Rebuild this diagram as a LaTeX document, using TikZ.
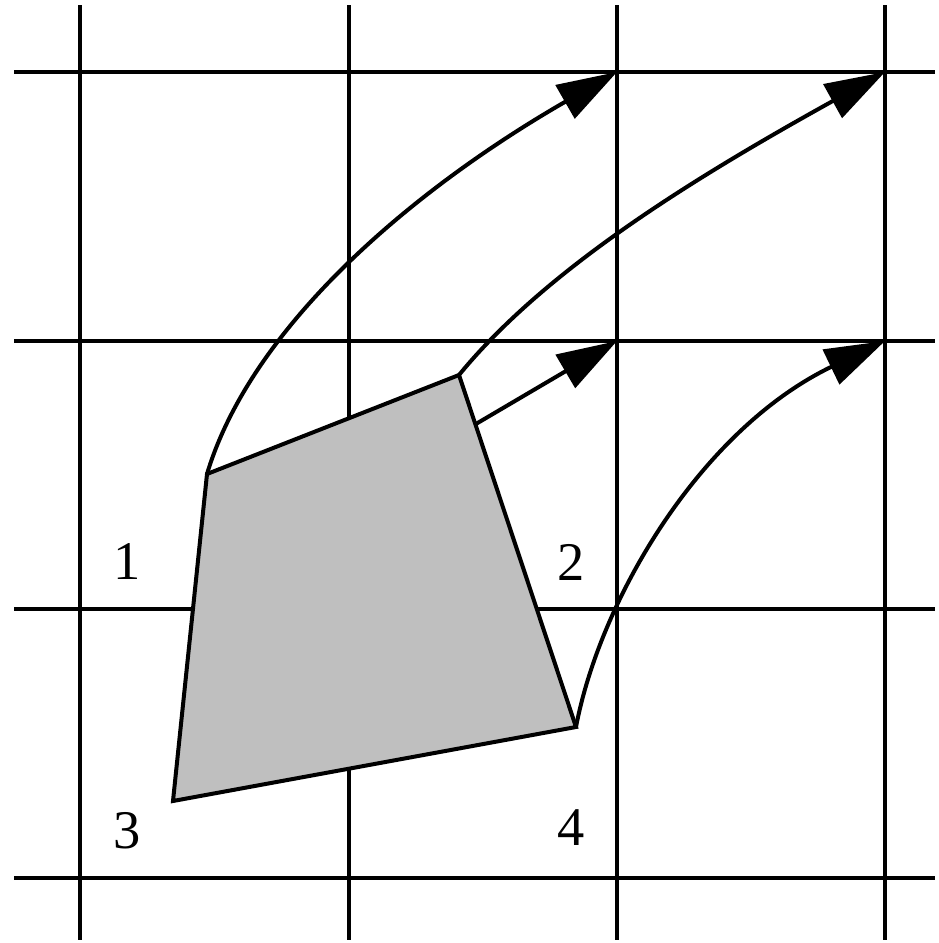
\documentclass[tikz,border=0pt]{standalone}
\usepackage{fontspec}
\setmainfont{Liberation Serif}
\usetikzlibrary{arrows.meta,calc}
\begin{document}
\begin{tikzpicture}[x=0.02cm,y=-0.02cm,
  gridline/.style={line width=0.08cm},
  edge/.style={line width=0.08cm},
  flow/.style={line width=0.08cm,-{Triangle[length=1.2cm,width=0.76cm]}},
  lab/.style={font=\fontsize{31}{31}\selectfont,inner sep=0pt}]
\useasboundingbox (0,0) rectangle (938,943);
% grid
\foreach \x in {80,349,617,885} \draw[gridline] (\x,5) -- (\x,940);
\foreach \y in {72,341,609,878} \draw[gridline] (14,\y) -- (935,\y);
% grid targets
\coordinate (t1) at (617,72);
\coordinate (t2) at (885,72);
\coordinate (t3) at (617,341);
\coordinate (t4) at (885,341);
% quadrilateral
\coordinate (A) at (207,474);
\coordinate (B) at (459,375);
\coordinate (D) at (576,727);
\coordinate (C) at (173,801);
\filldraw[edge,fill=black!25] (A) -- (B) -- (D) -- (C) -- cycle;
\coordinate (m) at ($(B)!0.14!(D)$);
% arrows
\draw[flow] (A) .. controls (252,324) and (417,187) .. (t1);
\draw[flow] (B) .. controls (549,265) and (705,172) .. (t2);
\draw[flow] (m) -- (t3);
\draw[flow] (D) .. controls (600,600) and (700,430) .. (t4);
% labels
\node[lab] (l1) at (127,562) {1};
\node[lab] (l2) at (571,562) {2};
\node[lab] (l3) at (127,831) {3};
\node[lab] (l4) at (571,828) {4};
\end{tikzpicture}
\end{document}
